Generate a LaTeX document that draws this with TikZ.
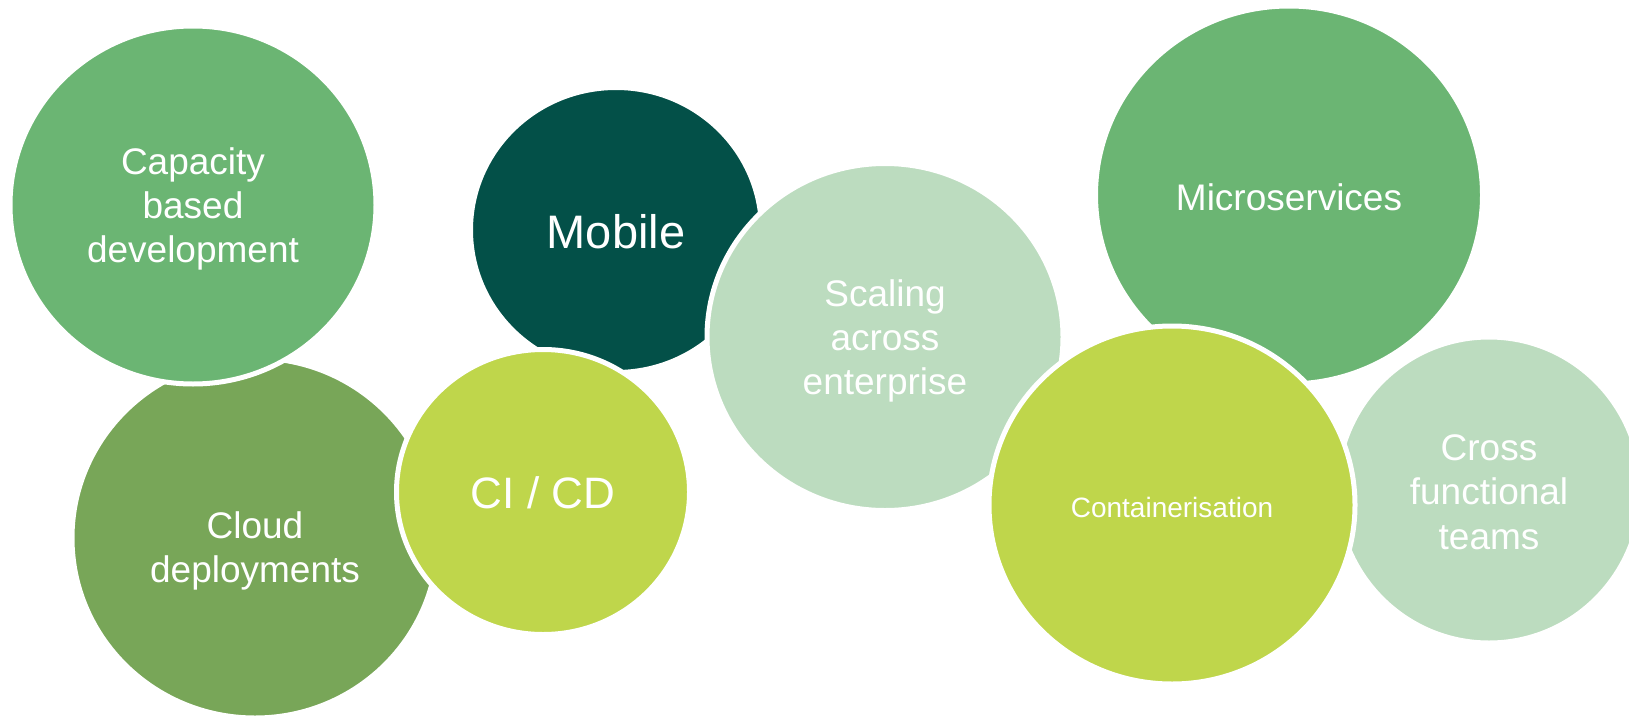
\documentclass[tikz,border=0pt]{standalone}
\usepackage{fontspec}
\setmainfont{Liberation Sans}
\usetikzlibrary{shapes.geometric}
\definecolor{midgreen}{HTML}{6BB573}
\definecolor{olivegreen}{HTML}{78A658}
\definecolor{darkteal}{HTML}{035048}
\definecolor{limegreen}{HTML}{BFD64B}
\definecolor{palegreen}{HTML}{BCDCBF}
\begin{document}
\begin{tikzpicture}[x=1pt,y=-1pt,
  bub/.style={ellipse, draw=white, line width=5pt, inner sep=0pt},
  txt/.style={text=white, align=center, inner sep=0pt, font=\fontsize{37}{44.4}\selectfont}]
\useasboundingbox (0,0) rectangle (1629,717);
\clip (0,0) rectangle (1629,717);
\node[bub, fill=olivegreen, minimum width=366pt, minimum height=360pt] (cloud) at (255,538) {};
\node[txt] (cloudt) at ([yshift=-13pt]cloud.center) {Cloud\\deployments};
\node[bub, fill=midgreen, minimum width=366pt, minimum height=358pt] (capacity) at (193,205) {};
\node[txt] (capacityt) at ([yshift=-4pt]capacity.center) {Capacity\\based\\development};
\node[bub, fill=darkteal, minimum width=291pt, minimum height=285pt] (mobile) at (616,230) {};
\node[txt, font=\fontsize{47}{56}\selectfont] (mobilet) at ([yshift=-2pt]mobile.center) {Mobile};
\node[bub, fill=limegreen, minimum width=293pt, minimum height=285pt] (cicd) at (543,492) {};
\node[txt, font=\fontsize{44}{52}\selectfont] (cicdt) at ([yshift=-1pt]cicd.center) {CI / CD};
\node[bub, fill=palegreen, minimum width=356pt, minimum height=347pt] (scaling) at (885,337) {};
\node[txt] (scalingt) at ([yshift=-4pt]scaling.center) {Scaling\\across\\enterprise};
\node[bub, fill=midgreen, minimum width=387pt, minimum height=378pt] (micro) at (1289,195) {};
\node[txt] (microt) at ([yshift=-2pt]micro.center) {Microservices};
\node[bub, fill=palegreen, minimum width=304pt, minimum height=306pt] (cross) at (1489,490) {};
\node[txt] (crosst) at ([yshift=-2pt]cross.center) {Cross\\functional\\teams};
\node[bub, fill=limegreen, minimum width=366pt, minimum height=358pt] (container) at (1172,505) {};
\node[txt, font=\fontsize{28}{34}\selectfont] (containert) at ([yshift=-2pt]container.center) {Containerisation};
\end{tikzpicture}
\end{document}
